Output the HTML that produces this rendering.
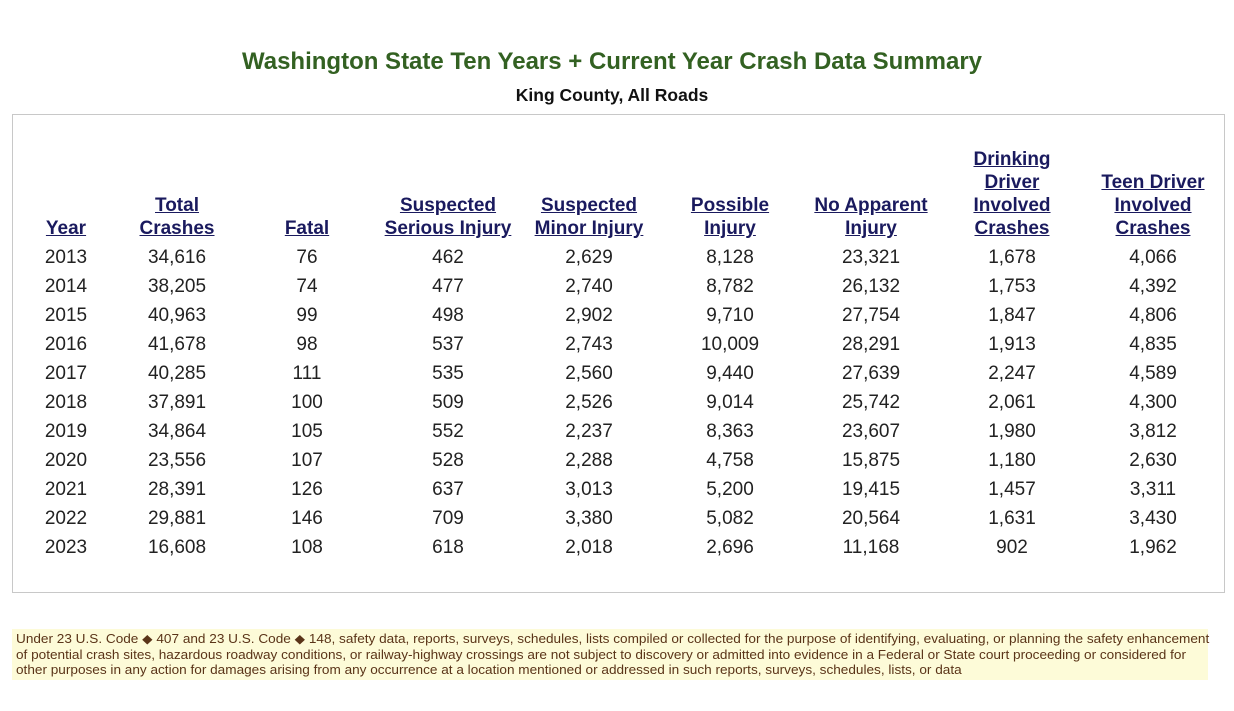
<!DOCTYPE html>
<html><head><meta charset="utf-8"><style>
body{margin:0;width:1234px;height:711px;background:#fff;font-family:"Liberation Sans",Arial,sans-serif;position:relative;overflow:hidden}
.t{position:absolute;left:0;width:1224px;text-align:center;font-weight:bold}
.box{position:absolute;left:12px;top:114px;width:1211px;height:477px;border:1px solid #c8c8c8}
.col{position:absolute;width:160px;text-align:center;font-size:19px;color:#222}
.h{position:absolute;bottom:471px;width:160px;text-align:center;font-size:19px;line-height:23px;font-weight:bold;color:#1a1a5e;text-decoration:underline}
.d{position:absolute;top:243px;line-height:29px}
.foot{position:absolute;left:12px;top:629px;width:1196px;height:51px;background:#fdfbd8}
.ft{position:absolute;left:16px;top:632px;color:#5a3418;font-size:12.6px;line-height:15.5px;white-space:nowrap;transform:scaleX(1.079);transform-origin:0 0}
</style></head><body>
<div class="t" style="top:48px;font-size:24px;color:#336122">Washington State Ten Years + Current Year Crash Data Summary</div>
<div class="t" style="top:85px;font-size:17.5px;color:#111">King County, All Roads</div>
<div class="box"></div>
<div class="h" style="left:-14px">Year</div>
<div class="col d" style="left:-14px">2013<br>2014<br>2015<br>2016<br>2017<br>2018<br>2019<br>2020<br>2021<br>2022<br>2023</div>
<div class="h" style="left:97px">Total<br>Crashes</div>
<div class="col d" style="left:97px">34,616<br>38,205<br>40,963<br>41,678<br>40,285<br>37,891<br>34,864<br>23,556<br>28,391<br>29,881<br>16,608</div>
<div class="h" style="left:227px">Fatal</div>
<div class="col d" style="left:227px">76<br>74<br>99<br>98<br>111<br>100<br>105<br>107<br>126<br>146<br>108</div>
<div class="h" style="left:368px">Suspected<br>Serious Injury</div>
<div class="col d" style="left:368px">462<br>477<br>498<br>537<br>535<br>509<br>552<br>528<br>637<br>709<br>618</div>
<div class="h" style="left:509px">Suspected<br>Minor Injury</div>
<div class="col d" style="left:509px">2,629<br>2,740<br>2,902<br>2,743<br>2,560<br>2,526<br>2,237<br>2,288<br>3,013<br>3,380<br>2,018</div>
<div class="h" style="left:650px">Possible<br>Injury</div>
<div class="col d" style="left:650px">8,128<br>8,782<br>9,710<br>10,009<br>9,440<br>9,014<br>8,363<br>4,758<br>5,200<br>5,082<br>2,696</div>
<div class="h" style="left:791px">No Apparent<br>Injury</div>
<div class="col d" style="left:791px">23,321<br>26,132<br>27,754<br>28,291<br>27,639<br>25,742<br>23,607<br>15,875<br>19,415<br>20,564<br>11,168</div>
<div class="h" style="left:932px">Drinking<br>Driver<br>Involved<br>Crashes</div>
<div class="col d" style="left:932px">1,678<br>1,753<br>1,847<br>1,913<br>2,247<br>2,061<br>1,980<br>1,180<br>1,457<br>1,631<br>902</div>
<div class="h" style="left:1073px">Teen Driver<br>Involved<br>Crashes</div>
<div class="col d" style="left:1073px">4,066<br>4,392<br>4,806<br>4,835<br>4,589<br>4,300<br>3,812<br>2,630<br>3,311<br>3,430<br>1,962</div>
<div class="foot"></div>
<div class="ft">Under 23 U.S. Code ◆ 407 and 23 U.S. Code ◆ 148, safety data, reports, surveys, schedules, lists compiled or collected for the purpose of identifying, evaluating, or planning the safety enhancement<br>of potential crash sites, hazardous roadway conditions, or railway-highway crossings are not subject to discovery or admitted into evidence in a Federal or State court proceeding or considered for<br>other purposes in any action for damages arising from any occurrence at a location mentioned or addressed in such reports, surveys, schedules, lists, or data</div>
</body></html>
